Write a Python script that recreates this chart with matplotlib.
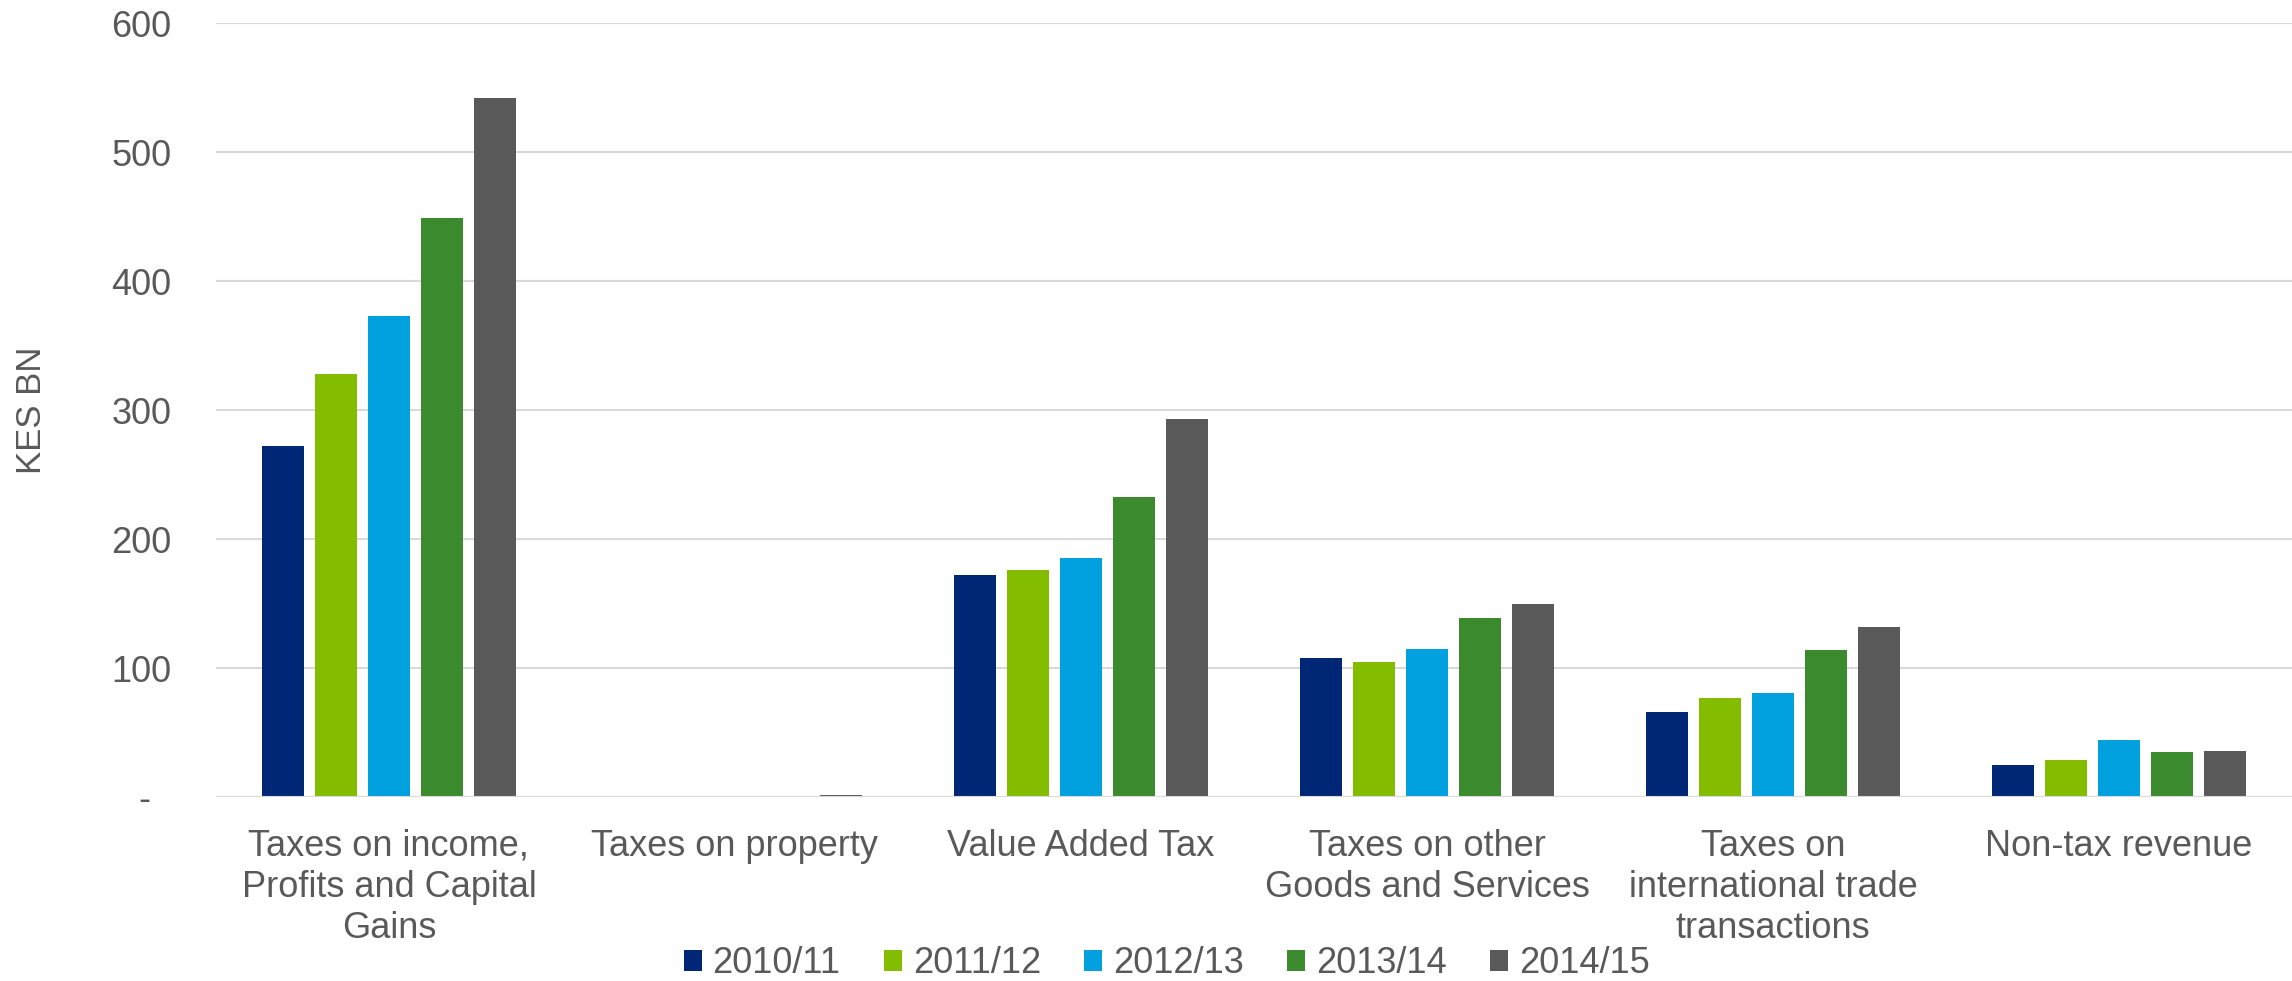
import numpy as np
import matplotlib
matplotlib.use('Agg')
from matplotlib import pyplot as plt
from matplotlib.patches import Patch

plt.rcParams['font.family'] = ['Liberation Sans', 'DejaVu Sans']

# Data (KES BN)
categories = ['Taxes on income,\nProfits and Capital\nGains', 'Taxes on property',
              'Value Added Tax', 'Taxes on other\nGoods and Services',
              'Taxes on\ninternational trade\ntransactions', 'Non-tax revenue']
years = ['2010/11', '2011/12', '2012/13', '2013/14', '2014/15']
fy2010 = [272, 0.1, 172, 108, 66, 25]
fy2011 = [328, 0.3, 176, 105, 77, 29]
fy2012 = [373, 0.4, 185, 115, 81, 44]
fy2013 = [449, 0.05, 233, 139, 114, 35]
fy2014 = [542, 1.3, 293, 150, 132, 36]
series = [fy2010, fy2011, fy2012, fy2013, fy2014]
colors = ['#002776', '#84BC00', '#00A1DE', '#3C8A2E', '#595959']

text_col = '#595959'
grid_col = '#D9D9D9'

fig = plt.figure(figsize=(22.92, 9.81), dpi=100)
ax = fig.add_axes([0.0942, 0.1876, 0.9058, 0.7885])

x = np.arange(len(categories))
width = 0.121
step = 0.153
for i, vals in enumerate(series):
    ax.bar(x + (i - 2) * step, vals, width, color=colors[i], zorder=3)

ax.set_xlim(-0.5, len(categories) - 0.5)
ax.set_ylim(0, 600)
ax.set_yticks(range(0, 601, 100))
ax.set_yticklabels(['-  '] + [str(v) for v in range(100, 601, 100)])
ax.yaxis.grid(True, color=grid_col, linewidth=1.5, zorder=0)
for s in ax.spines.values():
    s.set_visible(False)
ax.axhline(0, color=grid_col, linewidth=1.5, zorder=4)

ax.set_xticks(x)
ax.set_xticklabels(categories, linespacing=1.23)
ax.tick_params(axis='both', length=0, labelsize=26, labelcolor=text_col)
ax.tick_params(axis='y', pad=32)
ax.tick_params(axis='x', pad=23)

ax.set_ylabel('KES BN', fontsize=25, color=text_col)
ax.yaxis.set_label_coords(-0.081, 0.5)

handles = [Patch(facecolor=c, edgecolor='none') for c in colors]
fig.legend(handles, years, loc='lower center', bbox_to_anchor=(0.509, -0.026),
           ncol=5, frameon=False, handlelength=0.5, handleheight=0.5,
           handletextpad=0.3, columnspacing=1.2, fontsize=26,
           labelcolor=text_col, borderpad=0.2)

fig.savefig('out.png', dpi=100)
